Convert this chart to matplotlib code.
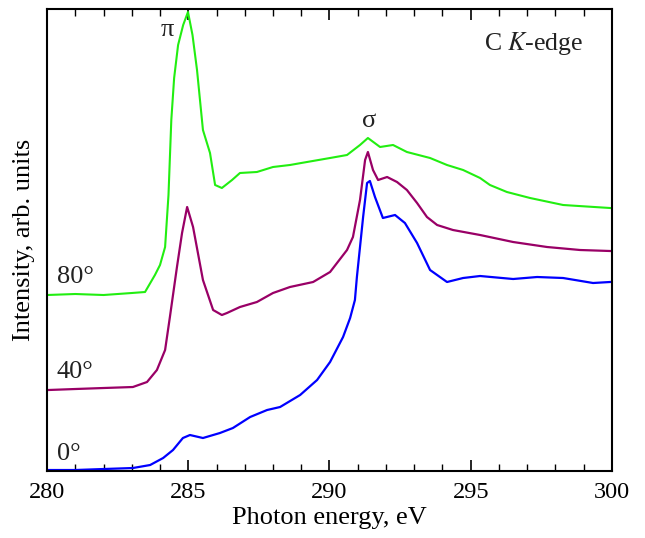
import matplotlib
matplotlib.use("Agg")
import matplotlib.pyplot as plt
from matplotlib.ticker import MultipleLocator

plt.rcParams['font.family'] = ['Liberation Serif', 'DejaVu Serif']
plt.rcParams['mathtext.fontset'] = 'stix'

# Energies (eV) and intensities (arb. units)
e_80 = [280.0, 281.0, 282.0, 283.0, 283.47, 283.82, 284.0, 284.18, 284.3, 284.4, 284.5, 284.64, 284.82, 284.99,
        285.15, 285.31, 285.52, 285.77, 285.95, 286.19, 286.55, 286.83, 287.43, 288.0, 288.6, 289.0,
        290.02, 290.62, 291.08, 291.36, 291.79, 292.25, 292.74, 293.56, 294.16, 294.73,
        295.33, 295.68, 296.28, 297.1, 298.27, 299.93]
y_80_px = [295, 294, 295, 293, 292, 275, 265, 247, 195, 120, 78, 45, 25, 12,
           35, 70, 130, 153, 185, 188, 180, 173, 172, 167, 165, 163,
           158, 155, 145, 138, 147, 145, 152, 158, 165, 170,
           178, 185, 192, 198, 205, 208]

e_40 = [280.04, 281.0, 282.0, 283.04, 283.54, 283.89, 284.18, 284.35, 284.6, 284.78, 284.96,
        285.17, 285.52, 285.88, 286.19, 286.37, 286.83, 287.43, 288.0, 288.6, 289.42, 290.02,
        290.62, 290.83, 291.08, 291.26, 291.36, 291.54, 291.72, 292.04, 292.39, 292.74,
        293.10, 293.45, 293.81, 294.37, 295.33, 296.5, 297.7, 298.87, 299.93]
y_40_px = [390, 389, 388, 387, 382, 370, 350, 317, 267, 233, 207,
           227, 280, 310, 315, 313, 307, 302, 293, 287, 282, 272,
           250, 237, 200, 160, 152, 170, 180, 177, 182, 190,
           203, 217, 225, 230, 235, 242, 247, 250, 251]

e_0 = [280.04, 281.0, 282.0, 283.04, 283.65, 284.11, 284.46, 284.81, 285.06, 285.52, 286.12,
       286.58, 287.19, 287.79, 288.25, 288.96, 289.56, 290.02, 290.48, 290.73, 290.9, 290.97,
       291.19, 291.33, 291.43, 291.61, 291.89, 292.32, 292.67, 293.10, 293.56, 294.16,
       294.73, 295.33, 296.5, 297.35, 298.27, 299.33, 299.93]
y_0_px = [470, 470, 469, 468, 465, 458, 450, 438, 435, 438, 433,
          428, 417, 410, 407, 395, 380, 362, 337, 318, 300, 277,
          217, 183, 181, 197, 218, 215, 223, 243, 270, 282,
          278, 276, 279, 277, 278, 283, 282]

BASE = 471
i_80 = [BASE - v for v in y_80_px]
i_40 = [BASE - v for v in y_40_px]
i_0 = [BASE - v for v in y_0_px]

angle_labels = ["80°", "40°", "0°"]
xticks = [280, 285, 290, 295, 300]

fig = plt.figure(figsize=(6.45, 5.38), dpi=100)
ax = fig.add_axes([0.0729, 0.1245, 0.8759, 0.8588])

ax.plot(e_80, i_80, color='#22ee11', lw=1.5)
ax.plot(e_40, i_40, color='#990066', lw=1.6)
ax.plot(e_0, i_0, color='#0000ff', lw=1.6)

ax.set_xlim(280, 300)
ax.set_ylim(0, 462)
ax.set_xticks(xticks)
ax.xaxis.set_minor_locator(MultipleLocator(1))
ax.tick_params(axis='x', which='both', direction='in', top=True, labelsize=17.5, pad=8)
ax.tick_params(axis='x', which='major', length=8, width=1.2)
ax.tick_params(axis='x', which='minor', length=5, width=1.0)
ax.tick_params(axis='y', left=False, labelleft=False)
for s in ax.spines.values():
    s.set_linewidth(1.5)

ax.set_xlabel("Photon energy, eV", fontsize=19, labelpad=3)
ax.set_ylabel("Intensity, arb. units", fontsize=19, labelpad=9)

txt = '#222222'
ax.text(280.35, 471 - 277, angle_labels[0], fontsize=19, va='center', ha='left', color=txt)
ax.text(280.35, 471 - 372, angle_labels[1], fontsize=19, va='center', ha='left', color=txt)
ax.text(280.35, 471 - 454, angle_labels[2], fontsize=19, va='center', ha='left', color=txt)

ax.text(284.25, 471 - 30, "π", fontsize=19, ha='center', va='center', color=txt)
ax.text(291.4, 471 - 121, "σ", fontsize=19, ha='center', va='center', color=txt)
ax.text(298.97, 471 - 44, r"C $\mathit{K}$-edge", fontsize=18.5, ha='right', va='center', color=txt)

fig.savefig("out.png", dpi=100)
